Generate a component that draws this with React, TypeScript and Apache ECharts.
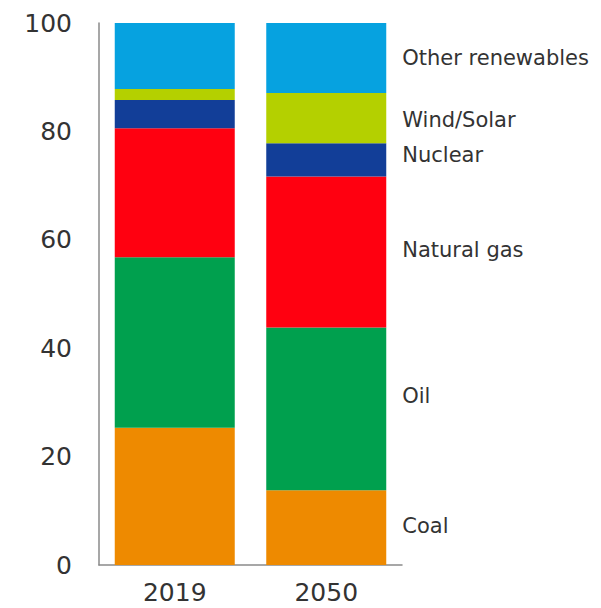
import React, { useEffect, useRef } from "react";
import * as echarts from "echarts";

const categories = ["2019", "2050"];
const seriesNames = ["Coal", "Oil", "Natural gas", "Nuclear", "Wind/Solar", "Other renewables"];
const coal = [25.3, 13.8];
const oil = [31.5, 30.0];
const naturalGas = [23.8, 27.9];
const nuclear = [5.2, 6.1];
const windSolar = [2.0, 9.3];
const otherRenewables = [12.2, 12.9];
const yTicks = [0, 20, 40, 60, 80, 100];

const seriesValues = [coal, oil, naturalGas, nuclear, windSolar, otherRenewables];
const colors = ["#EE8A00", "#00A04E", "#FF0010", "#123E98", "#B4D000", "#06A2E0"];
const labelOffsetsY = [-2, -13, -2, -5, 2, 0];

export default function App() {
  const ref = useRef<HTMLDivElement>(null);
  useEffect(() => {
    if (!ref.current) return;
    const chart = echarts.init(ref.current, null, { renderer: "svg" });
    const font = "'DejaVu Sans', sans-serif";
    chart.setOption({
      animation: false,
      grid: { left: 99, right: 199, top: 23, bottom: 43 },
      xAxis: {
        type: "category",
        data: categories,
        axisLine: { show: true, lineStyle: { color: "#8a8a8a", width: 1.5 } },
        axisTick: { show: false },
        axisLabel: { color: "#333", fontSize: 25, lineHeight: 24, fontFamily: font, margin: 15 },
      },
      yAxis: {
        type: "value",
        min: yTicks[0],
        max: yTicks[yTicks.length - 1],
        interval: 20,
        axisLine: { show: true, lineStyle: { color: "#8a8a8a", width: 1.5 } },
        axisTick: { show: false },
        splitLine: { show: false },
        axisLabel: { color: "#333", fontSize: 25, fontFamily: font, margin: 27 },
      },
      series: seriesNames.map((name, si) => ({
        name,
        type: "bar",
        stack: "total",
        barWidth: 120,
        itemStyle: { color: colors[si] },
        data: seriesValues[si].map((v, i) =>
          i === categories.length - 1
            ? {
                value: v,
                label: {
                  show: true,
                  position: "right",
                  distance: 16,
                  offset: [0, labelOffsetsY[si]],
                  formatter: name,
                  color: "#333",
                  fontSize: 21,
                  fontFamily: font,
                },
              }
            : v
        ),
      })),
    });
    return () => chart.dispose();
  }, []);
  return <div ref={ref} style={{ width: 601, height: 608, position: "absolute", left: 0, top: 0 }} />;
}
